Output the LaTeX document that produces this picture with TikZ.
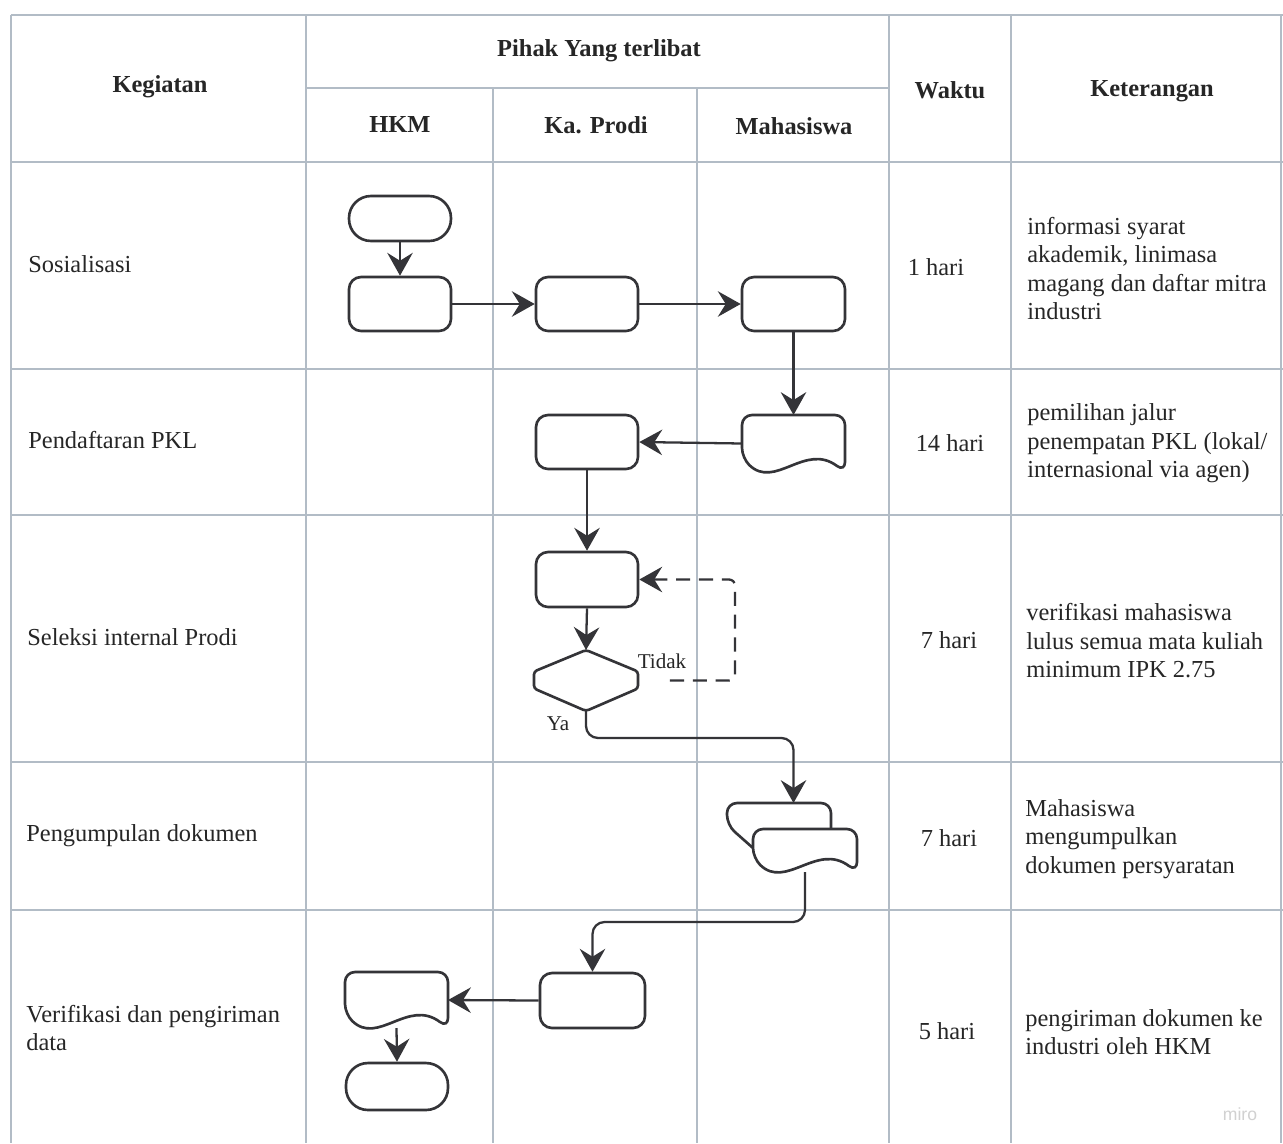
\documentclass[tikz,border=0pt]{standalone}
\usepackage{fontspec}
\setmainfont{Liberation Serif}
\setsansfont{Liberation Sans}
\usetikzlibrary{arrows.meta,calc}
\definecolor{gridc}{RGB}{178,188,198}
\definecolor{ink}{RGB}{52,52,56}
\newcommand\docdraw[1]{%
  \draw[docline]
    (#1.north) -- (#1.north east) -- (#1.south east)
    .. controls ($(#1.south east)+(-40,-30)$) and ($(#1.south west)+(33,18)$) .. ($(#1.south west)+(0,-14)$)
    -- (#1.north west) -- cycle;}
\begin{document}
\begin{tikzpicture}[x=0.02cm,y=-0.02cm,
  gridline/.style={draw=gridc, line width=0.9pt},
  box/.style={draw=ink, line width=1.5pt, rounded corners=0.24cm, inner sep=0, fill=white},
  pill/.style={box, rounded corners=0.44cm},
  ghost/.style={inner sep=0, outer sep=0, draw=none},
  docline/.style={draw=ink, line width=1.5pt, fill=white, rounded corners=0.2cm},
  conn/.style={draw=ink, line width=1.3pt, -{Stealth[length=13pt,width=14.5pt,inset=4.5pt]}},
  txt/.style={font=\fontsize{13.9}{16.2}\selectfont, inner sep=0, align=left, text=black!85},
  hdr/.style={font=\fontsize{13.9}{16.2}\selectfont\bfseries, inner sep=0, text=black!85},
  lbl/.style={font=\fontsize{12}{14}\selectfont, inner sep=0, text=black!85}
]
\useasboundingbox (0,0) rectangle (1283,1143);
\fill[white] (0,0) rectangle (1283,1143);

% grid
\draw[gridline] (11,15) -- (1283,15);
\draw[gridline] (306,88) -- (889,88);
\foreach \yy in {162,369,515,762,910} \draw[gridline] (11,\yy) -- (1283,\yy);
\foreach \xx in {11,306,889,1011,1281} \draw[gridline] (\xx,15) -- (\xx,1143);
\foreach \xx in {493,697} \draw[gridline] (\xx,88) -- (\xx,1143);

% header
\node[hdr] (hkeg) at (160,87) {Kegiatan};
\node[hdr] (hpih) at (599,51) {Pihak Yang terlibat};
\node[hdr] (hhkm) at (400,125) {HKM};
\node[hdr] (hkap) at (596,125) {Ka. Prodi};
\node[hdr] (hmhs) at (794,126) {Mahasiswa};
\node[hdr] (hwak) at (950,90) {Waktu};
\node[hdr] (hket) at (1152,91) {Keterangan};

% left column
\node[txt,anchor=west] (k1) at (28,264) {Sosialisasi};
\node[txt,anchor=west] (k2) at (28,440) {Pendaftaran PKL};
\node[txt,anchor=west] (k3) at (27,637) {Seleksi internal Prodi};
\node[txt,anchor=west] (k4) at (26,836) {Pengumpulan dokumen};
\node[txt,anchor=west] (k5) at (26,1028) {Verifikasi dan pengiriman\\data};

% waktu
\node[txt] (w1) at (936,267) {1 hari};
\node[txt] (w2) at (950,443) {14 hari};
\node[txt] (w3) at (949,640) {7 hari};
\node[txt] (w4) at (949,838) {7 hari};
\node[txt] (w5) at (947,1031) {5 hari};

% keterangan
\node[txt,anchor=west] (t1) at (1027,268.5) {informasi syarat\\akademik, linimasa\\magang dan daftar mitra\\industri};
\node[txt,anchor=west] (t2) at (1027,443.5) {pemilihan jalur\\penempatan PKL (lokal/\\internasional via agen)};
\node[txt,anchor=west] (t3) at (1026,641) {verifikasi mahasiswa\\lulus semua mata kuliah\\minimum IPK 2.75};
\node[txt,anchor=west] (t4) at (1025,839) {Mahasiswa\\mengumpulkan\\dokumen persyaratan};
\node[txt,anchor=west] (t5) at (1025,1032) {pengiriman dokumen ke\\industri oleh HKM};

% flow shapes
\node[pill, minimum width=2.04cm, minimum height=0.9cm] (start) at (400,218.5) {};
\node[box, minimum width=2.04cm, minimum height=1.08cm] (h1) at (400,304) {};
\node[box, minimum width=2.04cm, minimum height=1.08cm] (p1) at (587,304) {};
\node[box, minimum width=2.06cm, minimum height=1.08cm] (m1) at (793.5,304) {};
\node[ghost, minimum width=2.06cm, minimum height=1.14cm] (md) at (793.5,443.5) {};
\docdraw{md}
\node[box, minimum width=2.04cm, minimum height=1.08cm] (p2) at (587,442) {};
\node[box, minimum width=2.04cm, minimum height=1.10cm] (p3) at (587,579.5) {};
\node[ghost, minimum width=2.08cm, minimum height=1.22cm] (dec) at (586,680.5) {};
\draw[draw=ink, line width=1.5pt, fill=white, rounded corners=0.06cm]
  (dec.north) -- ($(dec.east)+(0,-9)$) -- ($(dec.east)+(0,8)$) -- (dec.south)
  -- ($(dec.west)+(0,8)$) -- ($(dec.west)+(0,-9)$) -- cycle;
\node[lbl] (tidak) at (662,661) {Tidak};
\node[lbl] (ya) at (558,724) {Ya};

% multi document
\node[ghost, minimum width=2.08cm, minimum height=0.94cm] (bd) at (779,826.5) {};
\draw[draw=ink, line width=1.5pt, rounded corners=0.2cm]
  ($(bd.north east)+(0,26)$) -- (bd.north east) -- (bd.north west) -- ($(bd.north west)+(0,22)$) -- ($(bd.north west)+(26,45)$);
\node[ghost, minimum width=2.08cm, minimum height=0.86cm] (fd) at (805,850.5) {};
\docdraw{fd}

\node[box, minimum width=2.10cm, minimum height=1.10cm] (p4) at (592.5,1000.5) {};
\node[ghost, minimum width=2.06cm, minimum height=1.12cm] (hd) at (396.5,1000) {};
\docdraw{hd}
\node[pill, minimum width=2.04cm, minimum height=0.94cm] (end) at (397,1086.5) {};

% connectors
\draw[conn] (start.south) -- (h1.north);
\draw[conn] (h1.east) -- (p1.west);
\draw[conn] (p1.east) -- (m1.west);
\draw[conn] (m1.south) -- (md.north);
\draw[conn] (md.west) -- (p2.east);
\draw[conn] (p2.south) -- (p3.north);
\draw[conn] (p3.south) -- (dec.north);
\draw[conn, dash pattern=on 8pt off 5pt, rounded corners=0.12cm, shorten <=0.64cm]
  (dec.east) -- ++(97,0) |- (p3.east);
\draw[conn, rounded corners=0.24cm] (dec.south) -- ++(0,27) -| (bd.north -| md.south);
\draw[conn, rounded corners=0.24cm] (fd.south) -- ++(0,50) -| (p4.north);
\draw[conn] (p4.west) -- (hd.east);
\draw[conn] (hd.south) -- (end.north);

% watermark
\node[font=\sffamily\fontsize{10}{12}\selectfont, text=black!18, inner sep=0] (miro) at (1240,1114) {miro};
\end{tikzpicture}
\end{document}
